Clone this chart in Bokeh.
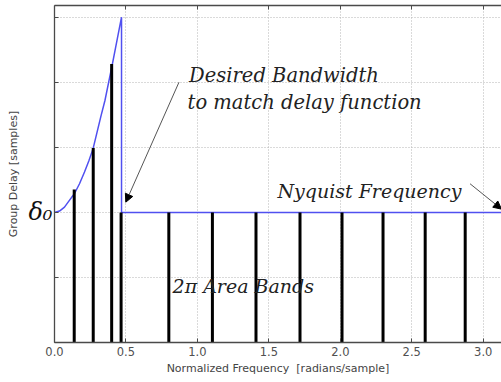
from bokeh.plotting import figure
from bokeh.models import (Range1d, LinearAxis, FixedTicker, Label, Arrow, NormalHead)
from bokeh.embed import file_html
from bokeh.resources import INLINE

# ---- data ----
curve_x = [0.0, 0.035, 0.07, 0.103, 0.14, 0.175, 0.21, 0.24, 0.27, 0.325, 0.353, 0.406, 0.469, 0.469, 3.1416]
curve_y = [2.0, 2.02, 2.08, 2.18, 2.29, 2.44, 2.62, 2.79, 2.98, 3.48, 3.72, 4.29, 5.0, 2.0, 2.0]

bar_x = [0.138, 0.271, 0.40, 0.466, 0.80, 1.105, 1.41, 1.718, 2.012, 2.299, 2.594, 2.874]
bar_y = [2.35, 2.99, 4.28, 2.0, 2.0, 2.0, 2.0, 2.0, 2.0, 2.0, 2.0, 2.0]

x_ticks = [0.0, 0.5, 1.0, 1.5, 2.0, 2.5, 3.0]
x_tick_labels = ["0.0", "0.5", "1.0", "1.5", "2.0", "2.5", "3.0"]
y_ticks = [0, 1, 2, 3, 4, 5]
delta_level = 2
delta_label = "δ₀"

x_label = "Normalized Frequency \u00a0[radians/sample]"
y_label = "Group Delay [samples]"
note_bandwidth = ["Desired Bandwidth", "to match delay function"]
note_nyquist = "Nyquist Frequency"
note_bands = "2π Area Bands"

# ---- figure ----
p = figure(width=501, height=382, output_backend="svg", toolbar_location=None,
           x_range=Range1d(0, 3.128), y_range=Range1d(0, 5.18),
           min_border_left=54, min_border_right=0, min_border_top=5, min_border_bottom=40,
           background_fill_color="white", border_fill_color="white")
p.outline_line_color = None

# grid
p.xgrid.ticker = FixedTicker(ticks=x_ticks)
p.ygrid.ticker = FixedTicker(ticks=y_ticks)
for g in (p.xgrid, p.ygrid):
    g.grid_line_color = "#b5b5b5"
    g.grid_line_dash = "1 2"
    g.grid_line_width = 1

axis_col = "#4a4a4a"
# bottom axis
xa = p.xaxis[0]
xa.ticker = FixedTicker(ticks=x_ticks)
xa.major_label_overrides = {t: s for t, s in zip(x_ticks, x_tick_labels)}
xa.axis_line_color = axis_col
xa.axis_line_width = 1.3
xa.major_tick_in = 4
xa.major_tick_out = 0
xa.major_tick_line_color = axis_col
xa.minor_tick_line_color = None
xa.major_label_standoff = 4
xa.major_label_text_font = "DejaVu Sans"
xa.major_label_text_font_size = "11.5px"
xa.major_label_text_color = "#505050"
xa.axis_label = x_label
xa.axis_label_text_font = "DejaVu Sans"
xa.axis_label_text_font_size = "11px"
xa.axis_label_text_font_style = "normal"
xa.axis_label_text_color = "#444444"
xa.axis_label_standoff = 3

# left axis
ya = p.yaxis[0]
ya.ticker = FixedTicker(ticks=y_ticks)
ya.major_label_overrides = {t: (delta_label if t == delta_level else "") for t in y_ticks}
ya.major_label_text_font = "DejaVu Serif"
ya.major_label_text_font_style = "italic"
ya.major_label_text_font_size = "24px"
ya.major_label_text_color = "#111111"
ya.axis_line_color = axis_col
ya.axis_line_width = 1.3
ya.major_tick_in = 4
ya.major_tick_out = 0
ya.major_tick_line_color = axis_col
ya.minor_tick_line_color = None
ya.major_label_standoff = 2
ya.axis_label = y_label
ya.axis_label_text_font = "DejaVu Sans"
ya.axis_label_text_font_size = "11px"
ya.axis_label_text_font_style = "normal"
ya.axis_label_text_color = "#444444"
ya.axis_label_standoff = 5

# top axis (frame border with inward ticks)
top = LinearAxis(ticker=FixedTicker(ticks=x_ticks), axis_line_color=axis_col, axis_line_width=1.3,
                 major_tick_in=4, major_tick_out=0, major_tick_line_color=axis_col,
                 minor_tick_line_color=None, major_label_text_font_size="0px",
                 major_label_standoff=0)
top.major_label_overrides = {t: "" for t in x_ticks}
p.add_layout(top, "above")

# marks
p.line(curve_x, curve_y, line_color="#5050f0", line_width=1.5)
p.segment(x0=bar_x, y0=[0] * len(bar_x), x1=bar_x, y1=bar_y, line_color="black",
          line_width=3, line_cap="butt")

# annotations
fnt = "DejaVu Serif"
p.add_layout(Label(x=0.942, y=4.104, text=note_bandwidth[0], text_font=fnt, text_font_style="italic",
                   text_font_size="19.5px", text_color="#222222", text_baseline="alphabetic"))
p.add_layout(Label(x=0.931, y=3.693, text=note_bandwidth[1], text_font=fnt, text_font_style="italic",
                   text_font_size="19.5px", text_color="#222222", text_baseline="alphabetic"))
p.add_layout(Label(x=1.56, y=2.336, text=note_nyquist, text_font=fnt, text_font_style="italic",
                   text_font_size="19px", text_color="#222222", text_baseline="alphabetic"))
p.add_layout(Label(x=0.826, y=0.861, text=note_bands, text_font=fnt, text_font_style="italic",
                   text_font_size="19px", text_color="#222222", text_baseline="alphabetic"))

p.add_layout(Arrow(x_start=0.871, y_start=4.0, x_end=0.499, y_end=2.157,
                   line_color="#555555", line_width=1,
                   end=NormalHead(size=8, fill_color="black", line_color="black")))
p.add_layout(Arrow(x_start=2.908, y_start=2.44, x_end=3.128, y_end=2.05,
                   line_color="#555555", line_width=1,
                   end=NormalHead(size=8, fill_color="black", line_color="black")))

open("out.html", "w").write(file_html(p, INLINE))
